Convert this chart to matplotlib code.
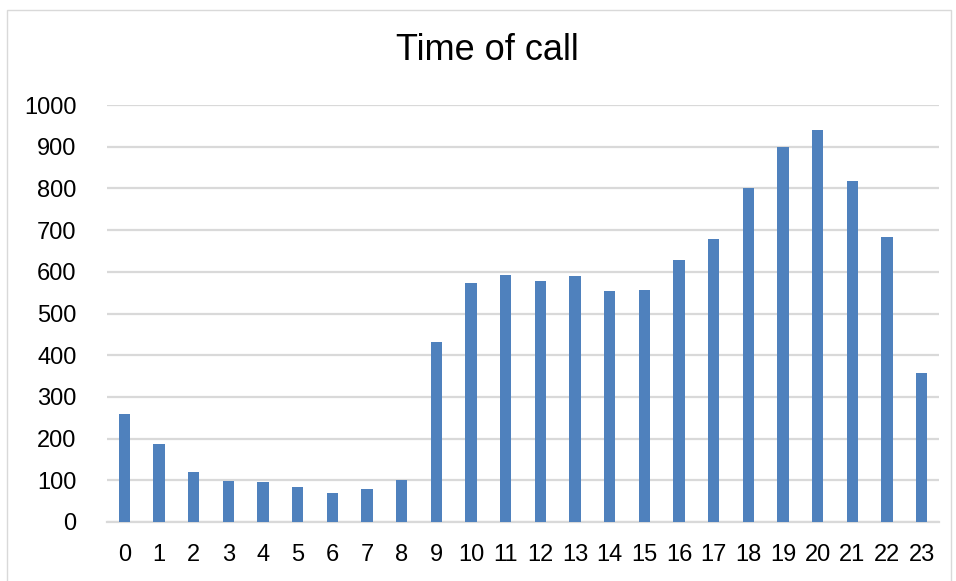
import matplotlib
matplotlib.use("Agg")
import matplotlib.pyplot as plt
from matplotlib.patches import Rectangle

hours = [str(h) for h in range(24)]
calls = [259, 187, 121, 98, 96, 85, 69, 79, 100, 431, 573, 592, 577, 591, 553,
         556, 628, 679, 802, 900, 939, 818, 684, 358]
yticks = [0, 100, 200, 300, 400, 500, 600, 700, 800, 900, 1000]

plt.rcParams['font.family'] = ['Liberation Sans', 'DejaVu Sans']

W, H = 956, 581
fig = plt.figure(figsize=(W / 100, H / 100), dpi=100)
fig.patch.set_facecolor('white')

# chart border
fig.patches.append(Rectangle((7 / W, -0.05), (951 - 7) / W, 1.05 - 10 / H,
                             transform=fig.transFigure, fill=False,
                             edgecolor='#d9d9d9', linewidth=1.0))

ax = fig.add_axes([107 / W, 1 - 522 / H, (939 - 107) / W, (522 - 105) / H])
x = list(range(len(hours)))
ax.bar(x, calls, width=0.32, color='#4f81bd', zorder=3)
ax.set_xlim(-0.5, len(hours) - 0.5)
ax.set_ylim(0, 1000)
ax.set_yticks(yticks)
ax.set_xticks(x)
ax.set_xticklabels(hours)
ax.grid(axis='y', color='#d9d9d9', linewidth=1.6, zorder=0)
for s in ['top', 'right', 'left']:
    ax.spines[s].set_visible(False)
ax.spines['bottom'].set_color('#d9d9d9')
ax.spines['bottom'].set_linewidth(1.6)
ax.tick_params(axis='both', length=0, labelsize=17, colors='black')
ax.tick_params(axis='y', pad=22)
ax.tick_params(axis='x', pad=16)

fig.text(487 / W, 1 - 51 / H, 'Time of call', ha='center', va='center',
         fontsize=26, color='black')

fig.savefig('out.png', dpi=100)
